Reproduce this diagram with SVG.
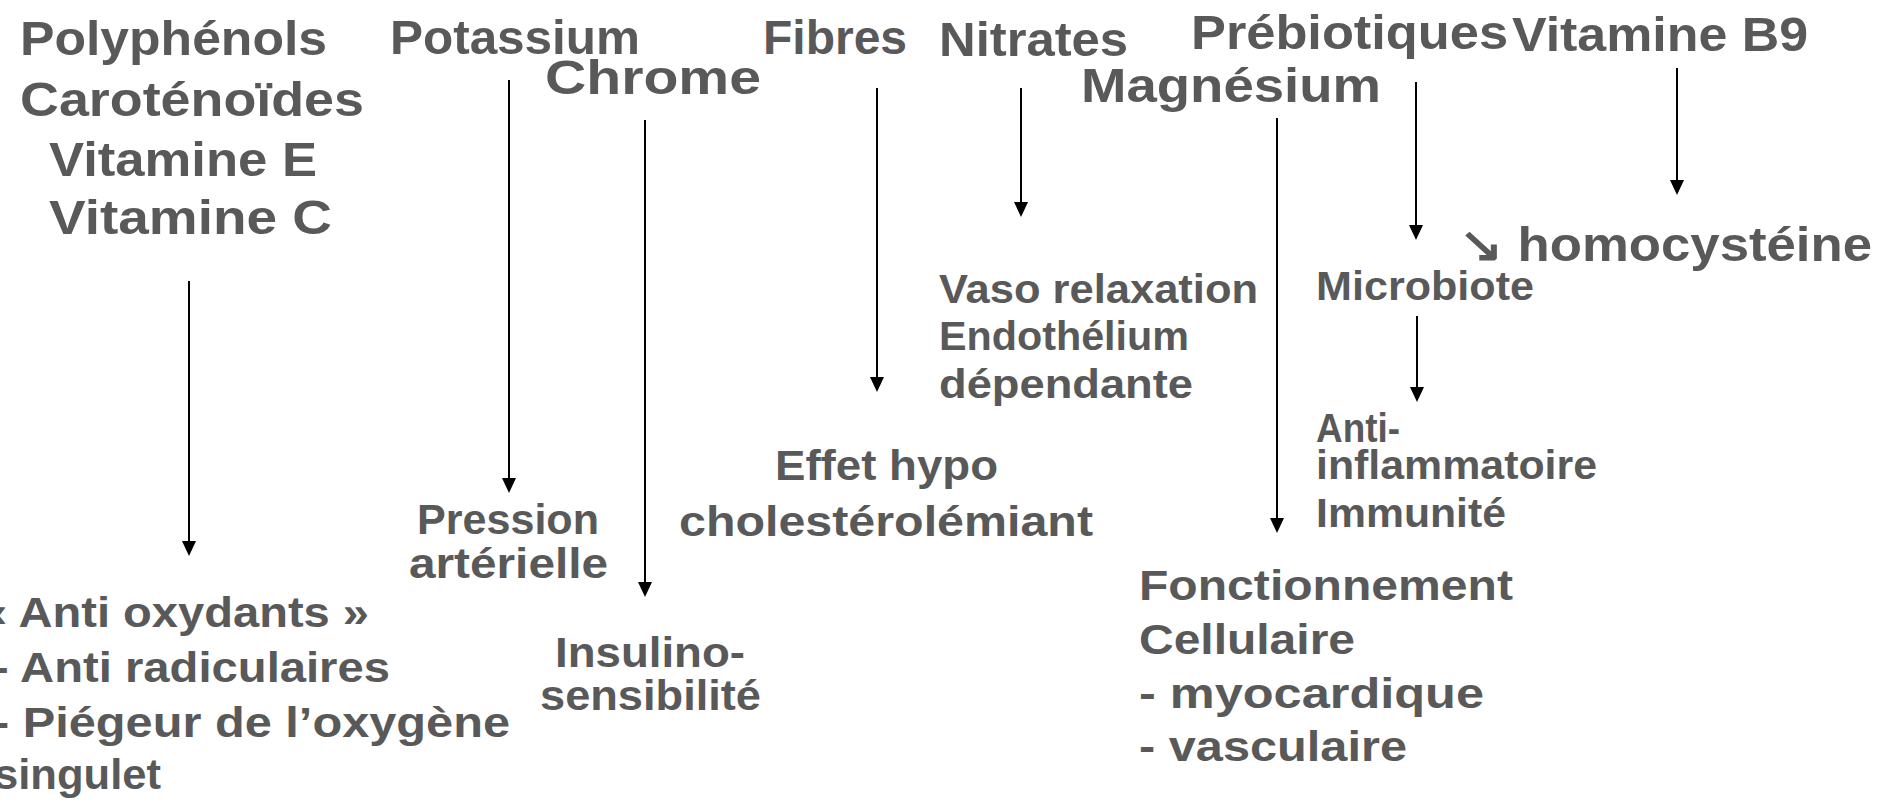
<svg xmlns="http://www.w3.org/2000/svg" width="1884" height="807" viewBox="0 0 1884 807">
<defs>
<style>
text{font-family:"Liberation Sans",Arial,sans-serif;font-weight:bold;fill:#595959}
.b{font-size:48px}
.m{font-size:43px}
.s{font-size:40px}
.c{stroke:#000;stroke-width:2;fill:none;marker-end:url(#ah)}
</style>
<marker id="ah" viewBox="0 0 15 14" refX="5" refY="7" markerWidth="15" markerHeight="14" markerUnits="userSpaceOnUse" orient="auto">
<path d="M0,0 L15,7 L0,14 z" fill="#000"/>
</marker>
</defs>
<rect width="1884" height="807" fill="#fff"/>
<g id="connectors">
<line class="c" x1="189" y1="281" x2="189" y2="546"/>
<line class="c" x1="509" y1="80" x2="509" y2="483"/>
<line class="c" x1="645" y1="120" x2="645" y2="587"/>
<line class="c" x1="877" y1="88" x2="877" y2="382"/>
<line class="c" x1="1021" y1="88" x2="1021" y2="207"/>
<line class="c" x1="1416" y1="82" x2="1416" y2="230"/>
<line class="c" x1="1277" y1="118" x2="1277" y2="523"/>
<line class="c" x1="1677" y1="68" x2="1677" y2="185"/>
<line class="c" x1="1417" y1="316" x2="1417" y2="392"/>
</g>
<g id="n-antioxydants-sources">
<text class="b" x="20" y="55" textLength="307" lengthAdjust="spacingAndGlyphs">Polyphénols</text>
<text class="b" x="20" y="116" textLength="344" lengthAdjust="spacingAndGlyphs">Caroténoïdes</text>
<text class="b" x="49" y="176" textLength="268" lengthAdjust="spacingAndGlyphs">Vitamine E</text>
<text class="b" x="49" y="234" textLength="283" lengthAdjust="spacingAndGlyphs">Vitamine C</text>
</g>
<g id="n-antioxydants">
<text class="m" x="-19" y="627" textLength="388" lengthAdjust="spacingAndGlyphs">« Anti oxydants »</text>
<text class="m" x="-7" y="682" textLength="397" lengthAdjust="spacingAndGlyphs">- Anti radiculaires</text>
<text class="m" x="-7" y="737" textLength="517" lengthAdjust="spacingAndGlyphs">- Piégeur de l’oxygène</text>
<text class="m" x="-6" y="789" textLength="167" lengthAdjust="spacingAndGlyphs">singulet</text>
</g>
<g id="n-potassium"><text class="b" x="390" y="54" textLength="250" lengthAdjust="spacingAndGlyphs">Potassium</text></g>
<g id="n-pression">
<text class="m" x="417" y="534" textLength="182" lengthAdjust="spacingAndGlyphs">Pression</text>
<text class="m" x="409" y="578" textLength="199" lengthAdjust="spacingAndGlyphs">artérielle</text>
</g>
<g id="n-chrome"><text class="b" x="545" y="94" textLength="216" lengthAdjust="spacingAndGlyphs">Chrome</text></g>
<g id="n-insulino">
<text class="m" x="555" y="667" textLength="190" lengthAdjust="spacingAndGlyphs">Insulino-</text>
<text class="m" x="540" y="710" textLength="221" lengthAdjust="spacingAndGlyphs">sensibilité</text>
</g>
<g id="n-fibres"><text class="b" x="763" y="54" textLength="144" lengthAdjust="spacingAndGlyphs">Fibres</text></g>
<g id="n-effet">
<text class="m" x="775" y="480" textLength="223" lengthAdjust="spacingAndGlyphs">Effet hypo</text>
<text class="m" x="679" y="536" textLength="414" lengthAdjust="spacingAndGlyphs">cholestérolémiant</text>
</g>
<g id="n-nitrates"><text class="b" x="939" y="56" textLength="189" lengthAdjust="spacingAndGlyphs">Nitrates</text></g>
<g id="n-vaso">
<text class="s" x="939" y="303" textLength="319" lengthAdjust="spacingAndGlyphs">Vaso relaxation</text>
<text class="s" x="939" y="350" textLength="250" lengthAdjust="spacingAndGlyphs">Endothélium</text>
<text class="s" x="939" y="398" textLength="254" lengthAdjust="spacingAndGlyphs">dépendante</text>
</g>
<g id="n-magnesium"><text class="b" x="1081" y="102" textLength="300" lengthAdjust="spacingAndGlyphs">Magnésium</text></g>
<g id="n-fonctionnement">
<text class="m" x="1139" y="600" textLength="374" lengthAdjust="spacingAndGlyphs">Fonctionnement</text>
<text class="m" x="1139" y="654" textLength="216" lengthAdjust="spacingAndGlyphs">Cellulaire</text>
<text class="m" x="1139" y="708" textLength="345" lengthAdjust="spacingAndGlyphs">- myocardique</text>
<text class="m" x="1139" y="761" textLength="268" lengthAdjust="spacingAndGlyphs">- vasculaire</text>
</g>
<g id="n-prebiotiques"><text class="b" x="1191" y="49" textLength="317" lengthAdjust="spacingAndGlyphs">Prébiotiques</text></g>
<g id="n-microbiote"><text class="s" x="1316" y="300" textLength="218" lengthAdjust="spacingAndGlyphs">Microbiote</text></g>
<g id="n-antiinflammatoire">
<text class="s" x="1316" y="442" textLength="84" lengthAdjust="spacingAndGlyphs">Anti-</text>
<text class="s" x="1316" y="479" textLength="281" lengthAdjust="spacingAndGlyphs">inflammatoire</text>
<text class="s" x="1316" y="527" textLength="190" lengthAdjust="spacingAndGlyphs">Immunité</text>
</g>
<g id="n-vitamineb9"><text class="b" x="1512" y="51" textLength="296" lengthAdjust="spacingAndGlyphs">Vitamine B9</text></g>
<g id="n-homocysteine"><text class="b" x="1459" y="261" textLength="413" lengthAdjust="spacingAndGlyphs">↘ homocystéine</text></g>
</svg>
